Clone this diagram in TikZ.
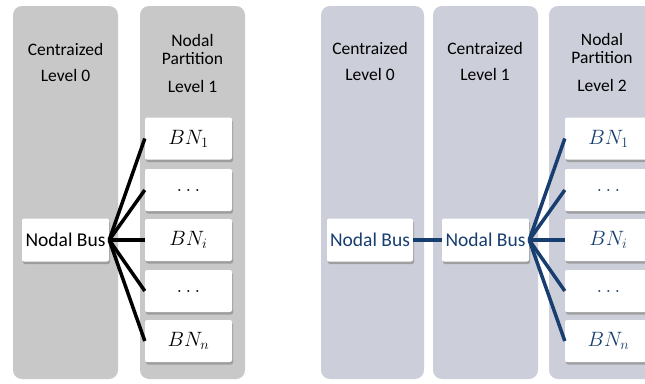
\documentclass[tikz,border=0pt]{standalone}
\usepackage{fontspec}
\setmainfont{Carlito}
\usepackage{tikz}
\usetikzlibrary{shadows}
\definecolor{leftgray}{RGB}{200,200,200}
\definecolor{rightgray}{RGB}{204,207,217}
\definecolor{busblue}{RGB}{24,62,112}
\tikzstyle{column} = [rectangle, rounded corners=9pt, draw=none,
minimum width=105pt, minimum height=373pt, inner sep=0pt]
\tikzstyle{title} = [align=center, inner sep=0pt,
font=\fontsize{17.5}{18}\selectfont]
\tikzstyle{busbox} = [rectangle, fill=white, rounded corners=2pt,
minimum width=87pt, minimum height=43pt, inner sep=0pt,
drop shadow={shadow xshift=1pt, shadow yshift=-2.5pt, fill=black!45, opacity=0.7},
font=\fontsize{19.5}{20}\selectfont]
\tikzstyle{bnbox} = [busbox, minimum height=42pt, font=\fontsize{20}{22}\selectfont]
\tikzstyle{wire} = [line width=3.5pt]

\begin{document}
\begin{tikzpicture}[x=1pt, y=-1pt]
		\useasboundingbox (0,0) rectangle (645,383);
		\clip (0,0) rectangle (645,383);
		% left: two-level hierarchy
		\node [column, fill=leftgray] (colA) at (65.5,192.5) {};
		\node [column, fill=leftgray] (colB) at (192.5,192.5) {};
		\node [title] (tA) at (65.5,62) {Centraized\\[8pt]Level 0};
		\node [title] (tB1) at (192.5,49.5) {Nodal\\Partition};
		\node [title] (tB2) at (192.5,86) {Level 1};
		\node [busbox] (bus) at (65.5,240) {Nodal Bus};
		\node [bnbox] (bn1) at (188.5,138.5) {$BN_1$};
		\node [bnbox] (bn2) at (188.5,190) {$\dots$};
		\node [bnbox] (bn3) at (188.5,240) {$BN_i$};
		\node [bnbox] (bn4) at (188.5,291) {$\dots$};
		\node [bnbox] (bn5) at (188.5,341) {$BN_n$};
		\draw [wire] (bus.east) -- (bn1.west);
		\draw [wire] (bus.east) -- (bn2.west);
		\draw [wire] (bus.east) -- (bn3.west);
		\draw [wire] (bus.east) -- (bn4.west);
		\draw [wire] (bus.east) -- (bn5.west);
		% right: three-level hierarchy
		\node [column, fill=rightgray, minimum width=103pt] (colC) at (372.5,192.5) {};
		\node [column, fill=rightgray] (colD) at (485.5,192.5) {};
		\node [column, fill=rightgray] (colE) at (601.5,192.5) {};
		\node [title] (tC) at (370,61) {Centraized\\[8pt]Level 0};
		\node [title] (tD) at (485,61) {Centraized\\[8pt]Level 1};
		\node [title] (tE1) at (602,48.5) {Nodal\\Partition};
		\node [title] (tE2) at (602,85) {Level 2};
		\begin{scope}[every node/.append style={text=busblue}]
		\node [busbox, minimum width=86pt] (busC) at (370,240) {Nodal Bus};
		\node [busbox] (busD) at (485.5,240) {Nodal Bus};
		\node [bnbox] (bnr1) at (608.5,138.5) {$BN_1$};
		\node [bnbox] (bnr2) at (608.5,190) {$\dots$};
		\node [bnbox] (bnr3) at (608.5,240) {$BN_i$};
		\node [bnbox] (bnr4) at (608.5,291) {$\dots$};
		\node [bnbox] (bnr5) at (608.5,341) {$BN_n$};
		\end{scope}
		\draw [wire, busblue] (busC.east) -- (busD.west);
		\draw [wire, busblue] (busD.east) -- (bnr1.west);
		\draw [wire, busblue] (busD.east) -- (bnr2.west);
		\draw [wire, busblue] (busD.east) -- (bnr3.west);
		\draw [wire, busblue] (busD.east) -- (bnr4.west);
		\draw [wire, busblue] (busD.east) -- (bnr5.west);
\end{tikzpicture}
\end{document}
